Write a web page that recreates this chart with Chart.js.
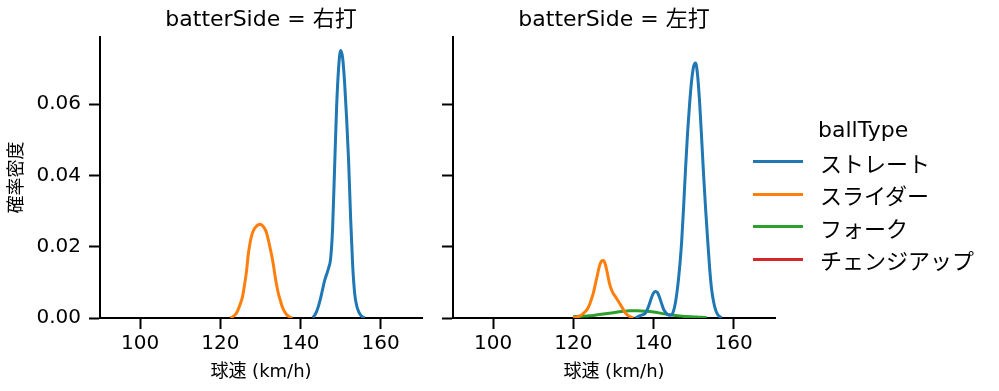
<!DOCTYPE html>
<html>
<head>
<meta charset="utf-8">
<script src="https://cdn.jsdelivr.net/npm/chart.js@4.4.1/dist/chart.umd.min.js"></script>
<style>
html, body { margin: 0; padding: 0; background: #fff; }
#wrap { position: relative; width: 999px; height: 391px; overflow: hidden; background: #fff; }
#c1 { position: absolute; left: 0; top: 0; }
#c2 { position: absolute; left: 430px; top: 0; }
#legend { position: absolute; left: 753px; top: 117px; font-family: 'DejaVu Sans', 'Noto Sans CJK JP', sans-serif; color: #000; font-size: 22px; }
#legend .ttl { height: 26px; line-height: 26px; padding-left: 65px; margin-bottom: 2.25px; white-space: nowrap; }
#legend .row { height: 32.5px; display: flex; align-items: center; white-space: nowrap; }
#legend .sw { width: 50px; height: 3px; margin-right: 17px; flex: none; }
</style>
</head>
<body>
<div id="wrap">
  <canvas id="c1" width="430" height="391"></canvas>
  <canvas id="c2" width="569" height="391"></canvas>
  <div id="legend"></div>
</div>
<script>
// ---- data ----
const panels = ['右打', '左打'];
const ballTypes = ['ストレート', 'スライダー', 'フォーク', 'チェンジアップ'];
const xTicks = [100, 120, 140, 160];
const yTicks = [0, 0.02, 0.04, 0.06];

// 右打 ストレート
const rhStraightX = [143.0,143.5,144.0,144.5,145.0,145.5,146.0,146.5,147.0,147.5,148.0,148.5,149.0,149.5,150.0,150.5,151.0,151.5,152.0,152.5,153.0,153.5,154.0,154.5,155.0,155.5,156.0];
const rhStraightY = [0.0001,0.0007,0.0018,0.0034,0.0055,0.0080,0.0104,0.0122,0.0140,0.0165,0.0250,0.0420,0.0590,0.0700,0.0750,0.0730,0.0660,0.0560,0.0440,0.0280,0.0150,0.0070,0.0035,0.0018,0.0008,0.0003,0.0000];
// 右打 スライダー
const rhSliderX = [122.5,123.0,123.5,124.0,124.5,125.0,125.5,126.0,126.5,127.0,127.5,128.0,128.5,129.0,129.5,130.0,130.5,131.0,131.5,132.0,132.5,133.0,133.5,134.0,134.5,135.0,135.5,136.0,136.5,137.0,137.5,138.0];
const rhSliderY = [0.0000,0.0003,0.0007,0.0013,0.0025,0.0040,0.0058,0.0090,0.0128,0.0180,0.0215,0.0238,0.0250,0.0257,0.0262,0.0263,0.0259,0.0252,0.0240,0.0218,0.0192,0.0165,0.0130,0.0095,0.0068,0.0048,0.0030,0.0018,0.0010,0.0005,0.0002,0.0000];

// 左打 ストレート
const lhStraightX = [135.5,136.0,136.5,137.0,137.5,138.0,138.5,139.0,139.5,140.0,140.5,141.0,141.5,142.0,142.5,143.0,143.5,144.0,144.5,145.0,145.5,146.0,146.5,147.0,147.5,148.0,148.5,149.0,149.5,150.0,150.5,151.0,151.5,152.0,152.5,153.0,153.5,154.0,154.5,155.0,155.5,156.0,156.5,157.0];
const lhStraightY = [0.0000,0.0003,0.0006,0.0008,0.0010,0.0014,0.0025,0.0040,0.0057,0.0070,0.0074,0.0071,0.0058,0.0041,0.0025,0.0016,0.0010,0.0008,0.0009,0.0020,0.0045,0.0085,0.0140,0.0210,0.0310,0.0420,0.0520,0.0600,0.0665,0.0705,0.0715,0.0680,0.0605,0.0505,0.0400,0.0305,0.0220,0.0140,0.0080,0.0045,0.0022,0.0010,0.0004,0.0000];
// 左打 スライダー
const lhSliderX = [120.0,120.5,121.0,121.5,122.0,122.5,123.0,123.5,124.0,124.5,125.0,125.5,126.0,126.5,127.0,127.5,128.0,128.5,129.0,129.5,130.0,130.5,131.0,131.5,132.0,132.5,133.0,133.5,134.0,134.5,135.0];
const lhSliderY = [0.0001,0.0002,0.0003,0.0005,0.0008,0.0013,0.0018,0.0025,0.0036,0.0052,0.0070,0.0095,0.0120,0.0145,0.0159,0.0161,0.0150,0.0125,0.0098,0.0080,0.0068,0.0060,0.0051,0.0042,0.0033,0.0023,0.0014,0.0008,0.0005,0.0002,0.0000];
// 左打 フォーク
const lhForkX = [120,122,124,126,128,130,132,134,136,138,140,142,144,146,148,150,152,153.3];
const lhForkY = [0.0004,0.0005,0.0006,0.0009,0.0012,0.0015,0.0018,0.0020,0.0020,0.0019,0.0017,0.0013,0.0009,0.0006,0.0004,0.0003,0.0002,0.0001];
// チェンジアップ: no curve in either panel
const emptyX = [];
const emptyY = [];

// ---- style ----
const FONT = "'DejaVu Sans', 'Noto Sans CJK JP', sans-serif";
const palette = ['#1f77b4', '#ff7f0e', '#2ca02c', '#d62728'];
const xMin = 90, xMax = 170.3, yMin = 0, yMax = 0.0788;

function pts(xs, ys) { return xs.map((x, i) => ({ x: x, y: ys[i] })); }
function ds(i, xs, ys) {
  return {
    label: ballTypes[i],
    data: pts(xs, ys),
    borderColor: palette[i],
    backgroundColor: palette[i],
    borderWidth: 3,
    pointRadius: 0,
    fill: false,
    cubicInterpolationMode: 'monotone'
  };
}

function makeScales(first) {
  return {
    x: {
      type: 'linear', min: xMin, max: xMax,
      afterBuildTicks: s => { s.ticks = xTicks.map(v => ({ value: v })); },
      afterFit: s => { s.height = 73; },
      grid: { display: true, drawOnChartArea: false, drawTicks: true, tickLength: 11, tickWidth: 2, tickColor: '#000' },
      border: { display: true, color: '#000', width: 2 },
      ticks: { color: '#000', font: { size: 20, family: FONT }, padding: 3, maxRotation: 0, autoSkip: false },
      title: { display: true, text: '球速 (km/h)', color: '#000', font: { size: 18, family: FONT }, padding: { top: 0, bottom: 8 } }
    },
    y: {
      type: 'linear', min: yMin, max: yMax,
      afterBuildTicks: s => { s.ticks = yTicks.map(v => ({ value: v })); },
      afterFit: s => { s.width = first ? 100 : 23; },
      grid: { display: true, drawOnChartArea: false, drawTicks: true, tickLength: 11, tickWidth: 2, tickColor: '#000' },
      border: { display: true, color: '#000', width: 2 },
      ticks: { display: first, color: '#000', font: { size: 20, family: FONT }, padding: 8, callback: v => v.toFixed(2) },
      title: { display: first, text: '確率密度', color: '#000', font: { size: 18, family: FONT }, padding: { top: 7, bottom: 7 } }
    }
  };
}

function makeOptions(first, panel, rightPad) {
  return {
    responsive: false,
    animation: false,
    devicePixelRatio: 1,
    layout: { padding: { left: 0, right: rightPad, top: 0, bottom: 0 } },
    scales: makeScales(first),
    plugins: {
      legend: { display: false },
      tooltip: { enabled: false },
      title: {
        display: true, fullSize: false,
        text: 'batterSide = ' + panel,
        color: '#000',
        font: { size: 22, family: FONT, weight: 'normal' },
        padding: { top: 7, bottom: 3.6 }
      }
    }
  };
}

Chart.defaults.font.family = FONT;

new Chart(document.getElementById('c1'), {
  type: 'line',
  data: { datasets: [
    ds(0, rhStraightX, rhStraightY),
    ds(1, rhSliderX, rhSliderY),
    ds(2, emptyX, emptyY),
    ds(3, emptyX, emptyY)
  ] },
  options: makeOptions(true, panels[0], 8)
});

const htmlLegend = {
  id: 'htmlLegend',
  afterUpdate(chart) {
    const box = document.getElementById('legend');
    box.innerHTML = '';
    const t = document.createElement('div');
    t.className = 'ttl';
    t.textContent = 'ballType';
    box.appendChild(t);
    const items = Chart.defaults.plugins.legend.labels.generateLabels(chart);
    items.forEach(it => {
      const row = document.createElement('div');
      row.className = 'row';
      const sw = document.createElement('span');
      sw.className = 'sw';
      sw.style.background = it.strokeStyle;
      const tx = document.createElement('span');
      tx.textContent = it.text;
      row.appendChild(sw);
      row.appendChild(tx);
      box.appendChild(row);
    });
  }
};

new Chart(document.getElementById('c2'), {
  type: 'line',
  data: { datasets: [
    ds(0, lhStraightX, lhStraightY),
    ds(1, lhSliderX, lhSliderY),
    ds(2, lhForkX, lhForkY),
    ds(3, emptyX, emptyY)
  ] },
  options: makeOptions(false, panels[1], 224),
  plugins: [htmlLegend]
});
</script>
</body>
</html>
